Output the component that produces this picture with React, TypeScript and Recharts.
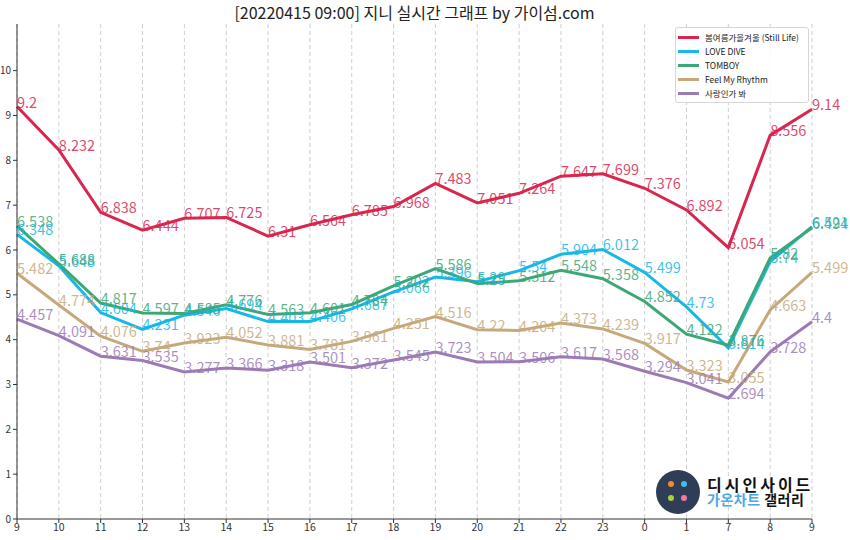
import { LineChart, Line, XAxis, YAxis, CartesianGrid, LabelList } from "recharts"

const hours = ["9", "10", "11", "12", "13", "14", "15", "16", "17", "18", "19", "20", "21", "22", "23", "0", "1", "7", "8", "9"]

const stillLife = [9.2, 8.232, 6.838, 6.444, 6.707, 6.725, 6.31, 6.564, 6.785, 6.968, 7.483, 7.051, 7.264, 7.647, 7.699, 7.376, 6.892, 6.054, 8.556, 9.14]
const loveDive = [6.348, 5.648, 4.604, 4.231, 4.546, 4.694, 4.403, 4.406, 4.687, 5.066, 5.396, 5.29, 5.54, 5.904, 6.012, 5.499, 4.73, 3.814, 5.74, 6.521]
const tomboy = [6.538, 5.688, 4.817, 4.597, 4.585, 4.776, 4.563, 4.601, 4.784, 5.202, 5.586, 5.25, 5.312, 5.548, 5.358, 4.852, 4.122, 3.876, 5.82, 6.494]
const feelMyRhythm = [5.482, 4.774, 4.076, 3.74, 3.923, 4.052, 3.881, 3.781, 3.961, 4.251, 4.516, 4.22, 4.204, 4.373, 4.239, 3.917, 3.323, 3.055, 4.663, 5.499]
const loveMaybe = [4.457, 4.091, 3.631, 3.535, 3.277, 3.366, 3.318, 3.501, 3.372, 3.545, 3.723, 3.504, 3.506, 3.617, 3.568, 3.294, 3.041, 2.694, 3.728, 4.4]

const yTicks = [0, 1, 2, 3, 4, 5, 6, 7, 8, 9, 10]

const SERIES = [
  { key: "s1", name: "봄여름가을겨울 (Still Life)", color: "#d8264f", values: stillLife },
  { key: "s2", name: "LOVE DIVE", color: "#17b7e8", values: loveDive },
  { key: "s3", name: "TOMBOY", color: "#3ea776", values: tomboy },
  { key: "s4", name: "Feel My Rhythm", color: "#c6a97b", values: feelMyRhythm },
  { key: "s5", name: "사랑인가 봐", color: "#9b7bb5", values: loveMaybe },
]

const chartData = hours.map((hour, i) => {
  const row: Record<string, string | number> = { hour }
  SERIES.forEach(s => { row[s.key] = s.values[i] })
  return row
})

const FONT = "'Noto Sans CJK KR', 'Noto Sans', sans-serif"
const AXIS = "#333333"

function makeLabel(color: string) {
  return (props: any) => {
    const { x, y, value } = props
    return (
      <text x={x} y={y + 1} fill={color} fillOpacity={0.85} fontSize={14.5} fontFamily={FONT} textAnchor="start">
        {value}
      </text>
    )
  }
}

function LegendBox() {
  return (
    <div
      style={{
        position: "absolute",
        left: 675,
        top: 27,
        width: 124,
        background: "rgba(255,255,255,0.85)",
        border: "1px solid #d6d6d6",
        borderRadius: 3,
        padding: "2px 6px 2px 2px",
        fontFamily: FONT,
        fontSize: 8.5,
        color: "#222",
      }}
    >
      {SERIES.map(s => (
        <div key={s.key} style={{ display: "flex", alignItems: "center", height: 14 }}>
          <span style={{ display: "inline-block", width: 21, height: 3, background: s.color, margin: "0 6px 0 0" }} />
          <span>{s.name}</span>
        </div>
      ))}
    </div>
  )
}

function Watermark() {
  return (
    <div style={{ position: "absolute", left: 656, top: 470, display: "flex", alignItems: "center", fontFamily: FONT }}>
      <div style={{ width: 44, height: 44, borderRadius: 22, background: "#2f3d57", position: "relative" }}>
        <div style={{ position: "absolute", left: 12, top: 11, width: 6, height: 6, borderRadius: 3, background: "#f08a2c" }} />
        <div style={{ position: "absolute", left: 25, top: 11, width: 6, height: 6, borderRadius: 3, background: "#3fc0ea" }} />
        <div style={{ position: "absolute", left: 12, top: 25, width: 6, height: 6, borderRadius: 3, background: "#a6d23a" }} />
        <div style={{ position: "absolute", left: 25, top: 25, width: 6, height: 6, borderRadius: 3, background: "#f27aa0" }} />
      </div>
      <div style={{ marginLeft: 7, lineHeight: "15px" }}>
        <div style={{ fontSize: 16, fontWeight: 700, color: "#111", letterSpacing: 3 }}>디시인사이드</div>
        <div style={{ fontSize: 14, fontWeight: 700, letterSpacing: 0.5 }}>
          <span style={{ color: "#4aa9e3" }}>가온차트</span> <span style={{ color: "#111" }}>갤러리</span>
        </div>
      </div>
    </div>
  )
}

export default function App() {
  return (
    <div style={{ position: "absolute", left: 0, top: 0, width: 850, height: 540, background: "#fff" }}>
      <div
        style={{
          position: "absolute",
          left: 17,
          width: 795,
          top: 0,
          textAlign: "center",
          fontFamily: FONT,
          fontSize: 16,
          color: "#222",
        }}
      >
        [20220415 09:00] 지니 실시간 그래프 by 가이섬.com
      </div>
      <LineChart width={850} height={540} data={chartData} margin={{ top: 24, right: 38, bottom: 0, left: 0 }}>
        <CartesianGrid horizontal={false} stroke="#cfcfcf" strokeDasharray="4 3" />
        <XAxis
          dataKey="hour"
          height={21}
          tick={{ fill: AXIS, fontSize: 10.5, fontFamily: FONT }}
          tickSize={4}
          tickMargin={1}
          stroke={AXIS}
          interval={0}
        />
        <XAxis xAxisId="top" dataKey="hour" orientation="top" height={0} tick={false} tickLine={false} stroke={AXIS} />
        <YAxis
          domain={[0, 11.04]}
          ticks={yTicks}
          width={17}
          tick={{ fill: AXIS, fontSize: 10, fontFamily: FONT }}
          tickSize={4}
          tickMargin={2}
          stroke={AXIS}
          allowDataOverflow
        />
        <YAxis yAxisId="right" orientation="right" width={0} tick={false} tickLine={false} stroke={AXIS} />
        {SERIES.map(s => (
          <Line
            key={s.key}
            dataKey={s.key}
            name={s.name}
            stroke={s.color}
            strokeWidth={3}
            dot={false}
            type="linear"
            isAnimationActive={false}
          >
            <LabelList dataKey={s.key} content={makeLabel(s.color)} />
          </Line>
        ))}
      </LineChart>
      <LegendBox />
      <Watermark />
    </div>
  )
}
